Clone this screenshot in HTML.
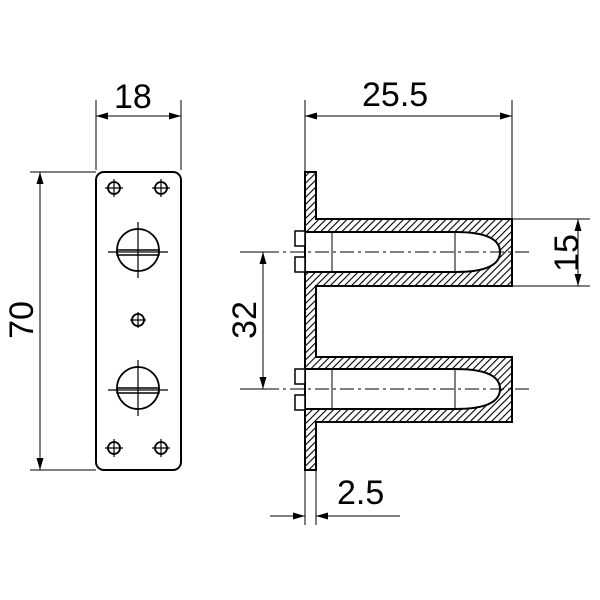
<!DOCTYPE html><html><head><style>body{margin:0;background:#fff}svg{display:block}text{font-family:"Liberation Sans",sans-serif;font-size:34px;fill:#000}</style></head><body>
<svg width="600" height="600" viewBox="0 0 600 600">
<defs>
<pattern id="h" patternUnits="userSpaceOnUse" width="5" height="5" patternTransform="rotate(45)"><line x1="0" y1="0" x2="0" y2="5" stroke="#000" stroke-width="2.2"/></pattern>
</defs>
<g stroke="#000" fill="none">
<!-- front view -->
<rect x="96" y="172" width="85" height="298" rx="8" stroke-width="2"/>
<g stroke-width="1.8">
<circle cx="114" cy="188" r="6"/><circle cx="161" cy="188" r="6"/><circle cx="114" cy="448" r="6"/><circle cx="161" cy="448" r="6"/>
<circle cx="138" cy="250" r="21"/><circle cx="138" cy="388" r="21"/><circle cx="138" cy="320" r="6"/>
</g>
<g stroke-width="1.2">
<path d="M105 188h18M114 179v18M152 188h18M161 179v18M105 448h18M114 439v18M152 448h18M161 439v18M130 320h16M138 312v16"/>
<path d="M108 252h60M138 222v56M108 390h60M138 360v56"/>
<rect x="117" y="250" width="42" height="5" stroke-width="1.5"/><rect x="117" y="388" width="42" height="5" stroke-width="1.5"/>
</g>
<g stroke-width="1">
<path d="M96 170V100M181 170V100M30 172h66M30 470h66"/>
<path d="M96 116H181M40 172V470"/>
</g>
<!-- side view hatched -->
<path d="M305 172h11v47h196v67h-196v71h196v65h-196v48h-11z" fill="url(#h)" stroke-width="0"/>
<path d="M305 232H455Q500 232 500 252Q500 272 455 272H305Z" fill="#fff" stroke="none"/>
<path d="M305 369H455Q500 369 500 389Q500 409 455 409H305Z" fill="#fff" stroke="none"/>
<g stroke-width="2">
<path d="M305 172V470H316V422H512V357H316V286H512V219H316V172Z"/>
<path d="M305 232H455Q500 232 500 252Q500 272 455 272H305"/>
<path d="M305 369H455Q500 369 500 389Q500 409 455 409H305"/>
<rect x="295" y="231" width="10" height="15" stroke-width="1.5" fill="#fff"/><rect x="295" y="257" width="10" height="15" stroke-width="1.5" fill="#fff"/>
<rect x="295" y="369" width="10" height="15" stroke-width="1.5" fill="#fff"/><rect x="295" y="395" width="10" height="15" stroke-width="1.5" fill="#fff"/>
</g>
<g stroke-width="1">
<path d="M332 232v40M455 232v40M332 369v40M455 369v40"/>
<path d="M240 252H530M240 389H530" stroke-dasharray="14 4 3 4"/>
<path d="M305 172V100M512 219V100M512 219H590M512 286H590M305 470V525M316 470V525M250 252h25M250 389h25"/>
<path d="M305 116H512M578 219V286M263 252V389M270 516H305M400 516H316"/>
</g>
</g>
<g fill="#000">
<path d="M96 116L108 112.5L108 119.5zM181 116L169 112.5L169 119.5z"/>
<path d="M40 172L36.5 184L43.5 184zM40 470L36.5 458L43.5 458z"/>
<path d="M305 116L317 112.5L317 119.5zM512 116L500 112.5L500 119.5z"/>
<path d="M578 219L574.5 231L581.5 231zM578 286L574.5 274L581.5 274z"/>
<path d="M263 252L259.5 264L266.5 264zM263 389L259.5 377L266.5 377z"/>
<path d="M305 516L293 512.5L293 519.5zM316 516L328 512.5L328 519.5z"/>
</g>
<text x="114" y="108">18</text>
<text x="362" y="106">25.5</text>
<text x="337" y="504">2.5</text>
<text transform="translate(33 320) rotate(-90)" text-anchor="middle">70</text>
<text transform="translate(256 320) rotate(-90)" text-anchor="middle">32</text>
<text transform="translate(578 253) rotate(-90)" text-anchor="middle">15</text>
</svg></body></html>
